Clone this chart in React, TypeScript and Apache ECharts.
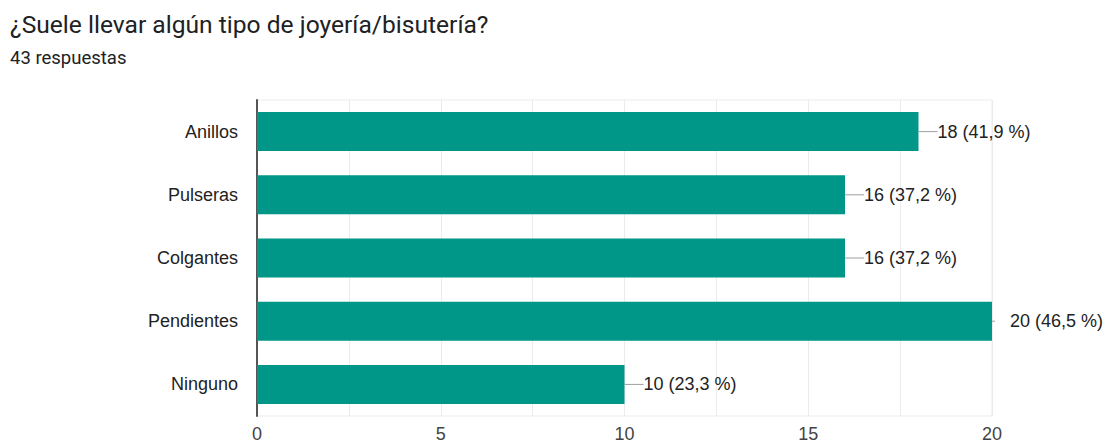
import React, { useEffect, useRef } from "react";
import * as echarts from "echarts";

const TITLE = "¿Suele llevar algún tipo de joyería/bisutería?";
const SUBTITLE = "43 respuestas";
const categories = ["Anillos", "Pulseras", "Colgantes", "Pendientes", "Ninguno"];
const counts = [18, 16, 16, 20, 10];
const percents = ["41,9", "37,2", "37,2", "46,5", "23,3"];
const xTicks = [0, 5, 10, 15, 20];

export default function App() {
  const ref = useRef<HTMLDivElement>(null);
  useEffect(() => {
    document.body.style.margin = "0";
    const chart = echarts.init(ref.current!, null, { renderer: "svg" });
    const data = counts.map((v, i) => {
      const atMax = v === 20;
      return {
        value: v,
        label: {
          formatter: atMax
            ? `{s| }{g| }{t|${v} (${percents[i]} %)}`
            : `{l| }{t|${v} (${percents[i]} %)}`,
        },
      };
    });
    chart.setOption({
      animation: false,
      title: [
        {
          text: TITLE,
          left: 5,
          top: 7,
          textStyle: { fontFamily: "Roboto", fontSize: 24.6, fontWeight: "normal", color: "#202124" },
        },
        {
          text: SUBTITLE,
          left: 5,
          top: 43,
          textStyle: { fontFamily: "Roboto", fontSize: 18.5, fontWeight: "normal", color: "#202124" },
        },
      ],
      grid: {
        left: 257,
        right: 120,
        top: 100,
        bottom: 27,
        show: true,
        borderColor: "#ebebeb",
        borderWidth: 1,
        containLabel: false,
        outerBoundsMode: "none",
      },
      xAxis: {
        type: "value",
        min: 0,
        max: 20,
        interval: 2.5,
        axisLine: { show: false },
        axisTick: { show: false },
        splitLine: { lineStyle: { color: "#ebebeb", width: 1 } },
        axisLabel: {
          margin: 9,
          fontFamily: "Liberation Sans",
          fontSize: 18,
          lineHeight: 18,
          color: "#444",
          formatter: (v: number) => (xTicks.indexOf(v) >= 0 ? String(v) : ""),
        },
      },
      yAxis: {
        type: "category",
        data: categories,
        inverse: true,
        axisTick: { show: false },
        axisLine: { lineStyle: { color: "#555", width: 2 } },
        axisLabel: {
          margin: 19,
          fontFamily: "Liberation Sans",
          fontSize: 18,
          color: "#222",
        },
      },
      series: [
        {
          type: "bar",
          data,
          barWidth: 39,
          itemStyle: { color: "#009688" },
          label: {
            show: true,
            position: "right",
            distance: 0,
            fontFamily: "Liberation Sans",
            fontSize: 18,
            color: "#222",
            rich: {
              l: { width: 19, height: 1, backgroundColor: "#9e9e9e", verticalAlign: "middle" },
              s: { width: 3, height: 1, backgroundColor: "#9e9e9e", verticalAlign: "middle" },
              g: { width: 15, height: 1 },
              t: { fontFamily: "Liberation Sans", fontSize: 18, color: "#222" },
            },
          },
        },
      ],
    });
    return () => chart.dispose();
  }, []);
  return (
    <div
      ref={ref}
      style={{ position: "absolute", left: 0, top: 0, width: 1112, height: 443, background: "#fff" }}
    />
  );
}
